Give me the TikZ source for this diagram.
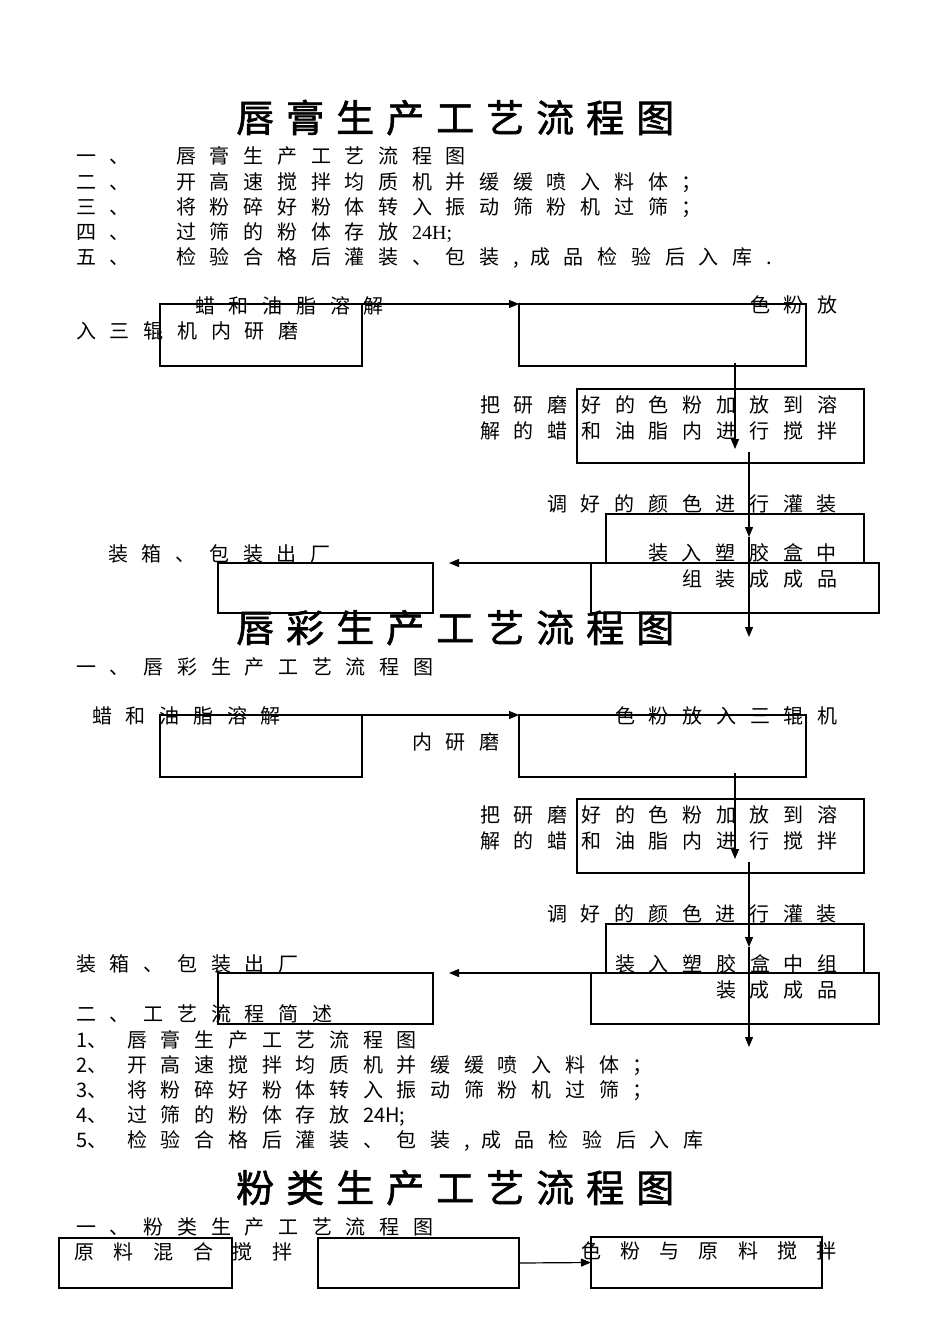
\documentclass[tikz,border=0pt]{standalone}
\usepackage{fontspec}
\setmainfont{Noto Sans CJK SC}
\newfontfamily\ttlfont[FakeBold=1.6]{Noto Sans CJK SC}
\newfontfamily\lserif{Liberation Serif}
\usetikzlibrary{arrows.meta}
\makeatletter
\newcommand\spc[2]{\@tfor\zz:=#2\do{\makebox[#1][l]{\zz}}}
\makeatother
\newcommand\pp{33.7pt}
\tikzset{
  box/.style={draw, line width=1.2pt, anchor=north west, inner sep=0pt, outer sep=0pt},
  txt/.style={anchor=base west, inner sep=0pt, font=\fontsize{20}{20}\selectfont},
  ttl/.style={anchor=base west, inner sep=0pt, font=\fontsize{38}{38}\ttlfont},
  arr/.style={line width=1.2pt, -{Triangle[length=10pt,width=8pt]}}
}
\begin{document}
\begin{tikzpicture}[x=1pt,y=-1pt]
\useasboundingbox (0,0) rectangle (950,1344);
% ---------------- Section 1 ----------------
\node[ttl] (t1) at (236,132) {\spc{50pt}{唇膏生产工艺流程图}};
\node[txt] (l1a) at (76,163) {\spc{\pp}{一、}};
\node[txt] (l1b) at (176,163) {\spc{\pp}{唇膏生产工艺流程图}};
\node[txt] (l2a) at (76,189) {\spc{\pp}{二、}};
\node[txt] (l2b) at (176,189) {\spc{\pp}{开高速搅拌均质机并缓缓喷入料体；}};
\node[txt] (l3a) at (76,214) {\spc{\pp}{三、}};
\node[txt] (l3b) at (176,214) {\spc{\pp}{将粉碎好粉体转入振动筛粉机过筛；}};
\node[txt] (l4a) at (76,239) {\spc{\pp}{四、}};
\node[txt] (l4b) at (176,239) {\spc{\pp}{过筛的粉体存放}{\lserif 24H;}};
\node[txt] (l5a) at (76,264) {\spc{\pp}{五、}};
\node[txt] (l5b) at (176,264) {\spc{\pp}{检验合格后灌装、包装}\makebox[17pt][l]{,}\spc{\pp}{成品检验后入库}.};
% boxes
\node[box, minimum width=202pt, minimum height=62pt] (A1) at (160,304) {};
\node[box, minimum width=287pt, minimum height=62pt] (B1) at (519,304) {};
\node[box, minimum width=287pt, minimum height=74pt] (C1) at (577,389) {};
\node[box, minimum width=258pt, minimum height=49pt] (D1) at (606,514) {};
\node[box, minimum width=288pt, minimum height=50pt] (E1) at (591,563) {};
\node[box, minimum width=215pt, minimum height=50pt] (F1) at (218,563) {};
% texts
\node[txt] (a1t) at (195,313) {\spc{\pp}{蜡和油脂溶解}};
\node[txt] (b1t) at (750,312) {\spc{\pp}{色粉放}};
\node[txt] (b1u) at (76,338) {\spc{\pp}{入三辊机内研磨}};
\node[txt] (c1t) at (480,412) {\spc{\pp}{把研磨好的色粉加放到溶}};
\node[txt] (c1u) at (480,438) {\spc{\pp}{解的蜡和油脂内进行搅拌}};
\node[txt] (d1t) at (547,511) {\spc{\pp}{调好的颜色进行灌装}};
\node[txt] (e1t) at (648,560) {\spc{\pp}{装入塑胶盒中}};
\node[txt] (e1u) at (682,586) {\spc{\pp}{组装成成品}};
\node[txt] (f1t) at (108,561) {\spc{\pp}{装箱、包装出厂}};
% connectors
\coordinate (v1s) at (735,363);
\coordinate (v1e) at (735,449);
\coordinate (v2s) at (749,452);
\coordinate (v2m) at (749,537);
\coordinate (v2e) at (749,637);
\coordinate (h1e) at (449,563);
\draw[arr] (A1.north east) -- (B1.north west);
\draw[arr] (v1s) -- (v1e);
\draw[arr] (v2s) -- (v2m);
\draw[arr] (v2m) -- (v2e);
\draw[arr] (E1.north west) -- (h1e);
% ---------------- Section 2 ----------------
\node[ttl] (t2) at (236,642) {\spc{50pt}{唇彩生产工艺流程图}};
\node[txt] (m1) at (76,674) {\spc{\pp}{一、唇彩生产工艺流程图}};
\node[box, minimum width=202pt, minimum height=62pt] (A2) at (160,715) {};
\node[box, minimum width=287pt, minimum height=62pt] (B2) at (519,715) {};
\node[box, minimum width=287pt, minimum height=74pt] (C2) at (577,799) {};
\node[box, minimum width=258pt, minimum height=49pt] (D2) at (606,924) {};
\node[box, minimum width=288pt, minimum height=51pt] (E2) at (591,973) {};
\node[box, minimum width=215pt, minimum height=51pt] (F2) at (218,973) {};
\node[txt] (a2t) at (92,723) {\spc{\pp}{蜡和油脂溶解}};
\node[txt] (b2t) at (615,723) {\spc{\pp}{色粉放入三辊机}};
\node[txt] (b2u) at (412,749) {\spc{\pp}{内研磨}};
\node[txt] (c2t) at (480,822) {\spc{\pp}{把研磨好的色粉加放到溶}};
\node[txt] (c2u) at (480,848) {\spc{\pp}{解的蜡和油脂内进行搅拌}};
\node[txt] (d2t) at (547,921) {\spc{\pp}{调好的颜色进行灌装}};
\node[txt] (e2t) at (615,971) {\spc{\pp}{装入塑胶盒中组}};
\node[txt] (e2u) at (716,997) {\spc{\pp}{装成成品}};
\node[txt] (f2t) at (76,971) {\spc{\pp}{装箱、包装出厂}};
\coordinate (w1s) at (735,773);
\coordinate (w1e) at (735,859);
\coordinate (w2s) at (749,862);
\coordinate (w2m) at (749,947);
\coordinate (w2e) at (749,1047);
\coordinate (h2e) at (449,973);
\draw[arr] (A2.north east) -- (B2.north west);
\draw[arr] (w1s) -- (w1e);
\draw[arr] (w2s) -- (w2m);
\draw[arr] (w2m) -- (w2e);
\draw[arr] (E2.north west) -- (h2e);
\node[txt] (s0) at (76,1021) {\spc{\pp}{二、工艺流程简述}};
\node[txt] (s1a) at (76,1047) {1、};
\node[txt] (s1b) at (127,1047) {\spc{\pp}{唇膏生产工艺流程图}};
\node[txt] (s2a) at (76,1072) {2、};
\node[txt] (s2b) at (127,1072) {\spc{\pp}{开高速搅拌均质机并缓缓喷入料体；}};
\node[txt] (s3a) at (76,1097) {3、};
\node[txt] (s3b) at (127,1097) {\spc{\pp}{将粉碎好粉体转入振动筛粉机过筛；}};
\node[txt] (s4a) at (76,1122) {4、};
\node[txt] (s4b) at (127,1122) {\spc{\pp}{过筛的粉体存放}24H;};
\node[txt] (s5a) at (76,1147) {5、};
\node[txt] (s5b) at (127,1147) {\spc{\pp}{检验合格后灌装、包装}\makebox[17pt][l]{,}\spc{\pp}{成品检验后入库}};
% ---------------- Section 3 ----------------
\node[ttl] (t3) at (236,1202) {\spc{50pt}{粉类生产工艺流程图}};
\node[txt] (n1) at (76,1234) {\spc{\pp}{一、粉类生产工艺流程图}};
\node[box, minimum width=173pt, minimum height=50pt] (G3) at (59,1238) {};
\node[box, minimum width=201pt, minimum height=50pt] (H3) at (318,1238) {};
\node[box, minimum width=231pt, minimum height=51pt] (I3) at (591,1237) {};
\node[txt] (g3t) at (74,1259) {\spc{39.6pt}{原料混合搅拌}};
\node[txt] (i3t) at (581,1258) {\spc{39.2pt}{色粉与原料搅拌}};
\draw[arr] (H3.east) -- (I3.west);
\end{tikzpicture}
\end{document}
